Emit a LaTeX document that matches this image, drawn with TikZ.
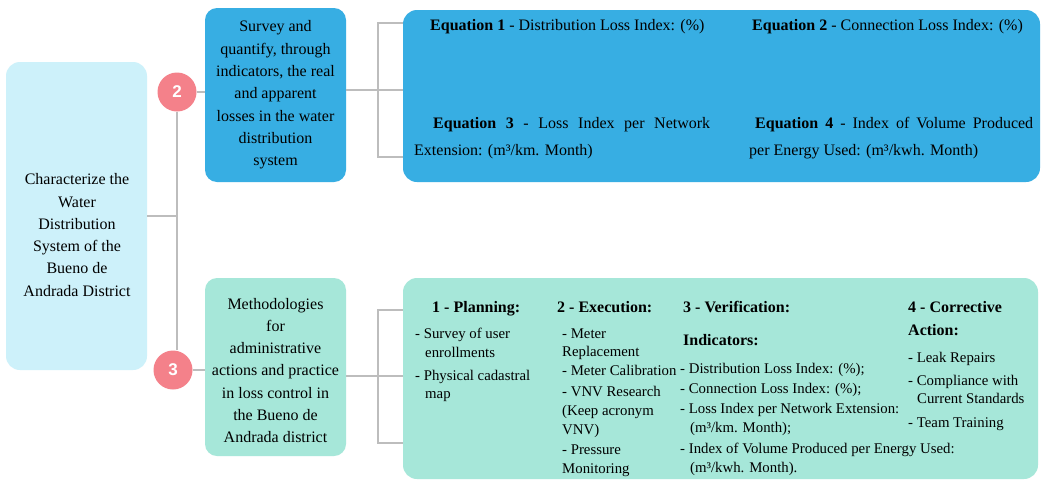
\documentclass[tikz,border=0pt]{standalone}
\usepackage{fontspec}
\setmainfont{Liberation Serif}
\newfontfamily\numfont{Liberation Sans}
\definecolor{leftc}{HTML}{CDF1FA}
\definecolor{bluec}{HTML}{37AEE3}
\definecolor{greenc}{HTML}{A6E7D9}
\definecolor{pinkc}{HTML}{F4818A}
\definecolor{linec}{HTML}{BDBDBD}
\begin{document}
\begin{tikzpicture}[x=1pt,y=-1pt,
  conn/.style={draw=linec, line width=1.3pt},
  panel/.style={rounded corners=14pt, draw=none, inner sep=0pt},
  num/.style={circle, fill=pinkc, minimum size=39pt, inner sep=0pt, text=white, font=\numfont\bfseries\fontsize{17}{17}\selectfont},
  lbl/.style={align=center, font=\fontsize{16}{22.3}\selectfont, inner sep=0pt},
  eq/.style={anchor=base west, inner sep=0pt, font=\fontsize{16}{19}\selectfont},
  gt/.style={anchor=base west, inner sep=0pt, font=\fontsize{14.8}{19}\selectfont},
  gh/.style={anchor=base west, inner sep=0pt, font=\bfseries\fontsize{16}{19}\selectfont}]
\useasboundingbox (0,0) rectangle (1042,480);
\fill[white] (0,0) rectangle (1042,480);

% panels
\node[panel, fill=leftc, minimum width=141pt, minimum height=308pt] (L) at (76.5,216) {};
\node[lbl] (Lt) at (77,235) {Characterize the\\Water\\Distribution\\System of the\\Bueno de\\Andrada District};
\node[panel, rounded corners=12pt, fill=bluec, minimum width=141pt, minimum height=174pt] (B) at (275.5,95) {};
\node[lbl] (Bt) at (275.5,95) {Survey and\\quantify, through\\indicators, the real\\and apparent\\losses in the water\\distribution\\system};
\node[panel, rounded corners=12pt, fill=greenc, minimum width=141pt, minimum height=178pt] (G) at (275.5,367) {};
\node[lbl] (Gt) at (275.5,370.5) {Methodologies\\for\\administrative\\actions and practice\\in loss control in\\the Bueno de\\Andrada district};
\node[panel, fill=bluec, minimum width=637pt, minimum height=172pt] (E) at (721.5,96) {};
\node[panel, fill=greenc, minimum width=635pt, minimum height=201pt] (P) at (720.5,378.5) {};

% circles
\node[num] (c2) at (177,92) {2};
\node[num] (c3) at (173,370) {3};

% connectors
\coordinate (bt) at (378,23);
\coordinate (bb) at (378,157);
\coordinate (bm) at (378,90);
\coordinate (gtp) at (378,310);
\coordinate (gbt) at (378,443);
\coordinate (gm) at (378,376);
\draw[conn] (c2.south) -- (c2.south |- c3.north);
\draw[conn] (L.east) -- (L.east -| c2.south);
\draw[conn] (c2.east) -- (c2.east -| B.west);
\draw[conn] (c3.east) -- (c3.east -| G.west);
\draw[conn] (B.east |- bm) -- (E.west |- bm);
\draw[conn] (E.west |- bt) -- (bt) -- (bb) -- (E.west |- bb);
\draw[conn] (G.east |- gm) -- (P.west |- gm);
\draw[conn] (P.west |- gtp) -- (gtp) -- (gbt) -- (P.west |- gbt);

% equations
\node[eq] (e1) at (430,30) {\textbf{Equation 1} - Distribution Loss Index: (\%)};
\node[eq] (e2) at (752,30) {\textbf{Equation 2} - Connection Loss Index: (\%)};
\node[eq] (e3a) at (433,128) {\makebox[277pt][s]{\textbf{Equation 3} - Loss Index per Network}};
\node[eq] (e3b) at (414,155) {Extension: (m³/km. Month)};
\node[eq] (e4a) at (755,128) {\makebox[278pt][s]{\textbf{Equation 4} - Index of Volume Produced}};
\node[eq] (e4b) at (749,155) {per Energy Used: (m³/kwh. Month)};

% column 1
\node[gh] (h1) at (432,312) {1 - Planning:};
\node[gt] (p1) at (415,338) {- Survey of user};
\node[gt] (p2) at (425,357) {enrollments};
\node[gt] (p3) at (415,380) {- Physical cadastral};
\node[gt] (p4) at (425,398) {map};
% column 2
\node[gh] (h2) at (557,312) {2 - Execution:};
\node[gt] (x1) at (562,338) {- Meter};
\node[gt] (x2) at (562,356) {Replacement};
\node[gt] (x3) at (562,375) {- Meter Calibration};
\node[gt] (x4) at (562,396) {- VNV Research};
\node[gt] (x5) at (562,415) {(Keep acronym};
\node[gt] (x6) at (562,434) {VNV)};
\node[gt] (x7) at (562,454) {- Pressure};
\node[gt] (x8) at (562,473) {Monitoring};
% column 3
\node[gh] (h3) at (683,312) {3 - Verification:};
\node[gh] (h3b) at (683,345) {Indicators:};
\node[gt] (v1) at (680,373) {- Distribution Loss Index: (\%);};
\node[gt] (v2) at (680,393) {- Connection Loss Index: (\%);};
\node[gt] (v3) at (680,413) {- Loss Index per Network Extension:};
\node[gt] (v4) at (690,432) {(m³/km. Month);};
\node[gt] (v5) at (680,453) {- Index of Volume Produced per Energy Used:};
\node[gt] (v6) at (690,472) {(m³/kwh. Month).};
% column 4
\node[gh] (h4) at (908,312) {4 - Corrective};
\node[gh] (h4b) at (908,335) {Action:};
\node[gt] (a1) at (908,362) {- Leak Repairs};
\node[gt] (a2) at (908,385) {- Compliance with};
\node[gt] (a3) at (917,403) {Current Standards};
\node[gt] (a4) at (908,427) {- Team Training};
\end{tikzpicture}
\end{document}
